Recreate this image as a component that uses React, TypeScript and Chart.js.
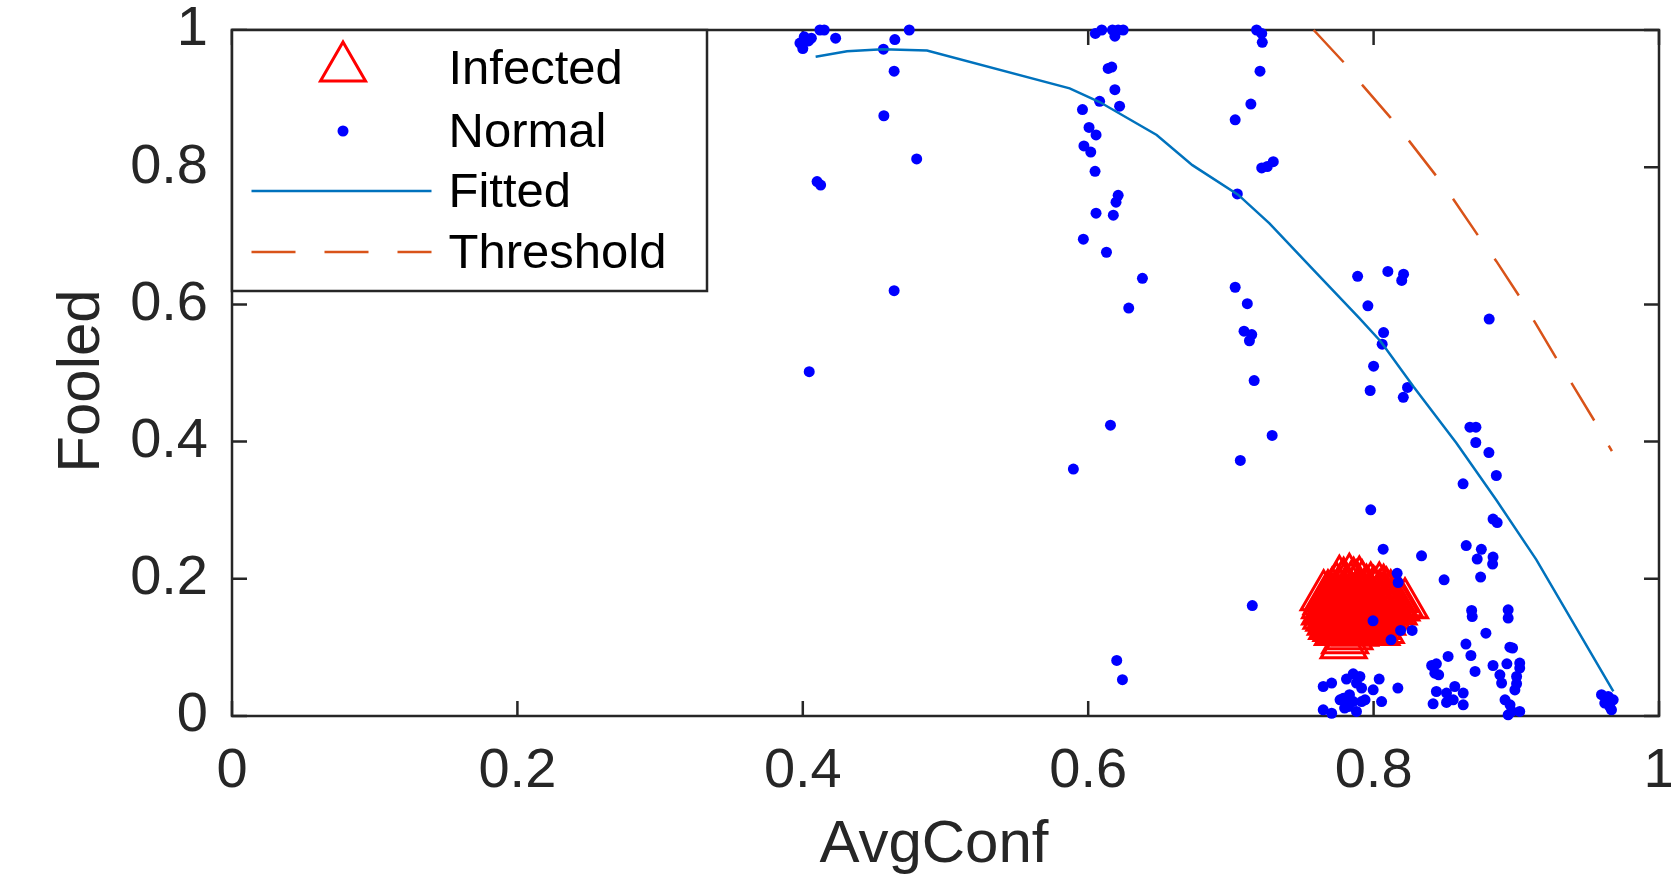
import React, { useEffect, useRef } from 'react';
import { Chart, registerables } from 'chart.js';

Chart.register(...registerables);

// ---------- data ----------
const tickValues = [0, 0.2, 0.4, 0.6, 0.8, 1];
const tickLabels = ['0', '0.2', '0.4', '0.6', '0.8', '1'];

const xTitle = 'AvgConf';
const yTitle = 'Fooled';
const legendLabels = ['Infected', 'Normal', 'Fitted', 'Threshold'];

// Infected samples (AvgConf, Fooled)
const infectedPoints: [number, number][] = [
  [0.783, 0.198],
  [0.779, 0.192], [0.786, 0.192], [0.776, 0.195], [0.790, 0.194],
  [0.778, 0.188], [0.792, 0.188], [0.788, 0.188], [0.784, 0.186],
  [0.798, 0.185], [0.774, 0.185], [0.804, 0.185],
  [0.781, 0.182], [0.795, 0.182], [0.807, 0.182], [0.800, 0.180],
  [0.771, 0.178], [0.776, 0.178], [0.789, 0.178], [0.801, 0.178], [0.809, 0.178],
  [0.765, 0.174], [0.768, 0.174], [0.784, 0.174], [0.793, 0.174], [0.812, 0.174], [0.804, 0.174],
  [0.770, 0.172], [0.790, 0.172], [0.806, 0.170],
  [0.773, 0.171], [0.787, 0.171], [0.798, 0.171], [0.815, 0.171], [0.779, 0.171],
  [0.767, 0.168], [0.781, 0.168], [0.791, 0.168], [0.808, 0.168], [0.796, 0.168],
  [0.775, 0.167], [0.799, 0.166],
  [0.770, 0.165], [0.776, 0.165], [0.786, 0.165], [0.802, 0.165], [0.813, 0.165], [0.818, 0.165],
  [0.788, 0.163], [0.805, 0.163],
  [0.766, 0.162], [0.783, 0.162], [0.794, 0.162], [0.799, 0.162], [0.822, 0.162], [0.810, 0.162],
  [0.777, 0.161], [0.812, 0.160],
  [0.772, 0.159], [0.779, 0.159], [0.789, 0.159], [0.805, 0.159], [0.816, 0.159], [0.795, 0.159],
  [0.783, 0.157],
  [0.768, 0.156], [0.775, 0.156], [0.792, 0.156], [0.801, 0.156], [0.811, 0.156], [0.797, 0.156],
  [0.766, 0.153], [0.784, 0.153], [0.788, 0.153], [0.807, 0.153], [0.814, 0.153], [0.769, 0.153],
  [0.799, 0.152],
  [0.771, 0.150], [0.778, 0.150], [0.795, 0.150], [0.803, 0.150], [0.782, 0.150], [0.790, 0.150],
  [0.806, 0.149], [0.775, 0.148],
  [0.767, 0.147], [0.786, 0.147], [0.791, 0.147], [0.809, 0.147], [0.799, 0.147],
  [0.783, 0.145], [0.793, 0.144],
  [0.769, 0.144], [0.774, 0.144], [0.781, 0.144], [0.796, 0.144], [0.804, 0.144],
  [0.772, 0.141], [0.788, 0.141], [0.793, 0.141], [0.801, 0.141], [0.778, 0.141],
  [0.777, 0.139],
  [0.770, 0.138], [0.784, 0.138], [0.797, 0.138], [0.806, 0.138], [0.790, 0.138],
  [0.795, 0.137], [0.781, 0.136],
  [0.773, 0.135], [0.779, 0.135], [0.787, 0.135], [0.800, 0.135],
  [0.771, 0.132], [0.776, 0.132], [0.794, 0.132], [0.803, 0.132], [0.783, 0.132], [0.791, 0.132],
  [0.774, 0.129], [0.781, 0.129], [0.789, 0.129], [0.798, 0.129],
  [0.779, 0.127], [0.796, 0.126],
  [0.777, 0.126], [0.786, 0.126], [0.792, 0.126], [0.805, 0.126],
  [0.775, 0.123], [0.783, 0.123], [0.799, 0.123], [0.802, 0.123], [0.787, 0.122],
  [0.783, 0.117],
  [0.780, 0.111],
  [0.779, 0.104],
];

// Normal samples, grouped by region
const normalGroupA: [number, number][] = [
  [0.398, 0.981], [0.401, 0.990], [0.406, 0.988], [0.400, 0.973], [0.404, 0.984],
  [0.412, 1.0], [0.415, 1.0], [0.423, 0.988], [0.410, 0.779], [0.4125, 0.774],
  [0.4565, 0.972], [0.4645, 0.986], [0.464, 0.940], [0.4746, 1.0], [0.4568, 0.875],
  [0.4798, 0.812], [0.464, 0.620], [0.4045, 0.502],
];
const normalGroupB: [number, number][] = [
  [0.605, 0.995], [0.6095, 1.0], [0.617, 1.0], [0.621, 1.0], [0.6245, 1.0],
  [0.6187, 0.991], [0.614, 0.944], [0.6165, 0.946], [0.6187, 0.913], [0.608, 0.896],
  [0.622, 0.889], [0.596, 0.884], [0.6006, 0.858], [0.6055, 0.847], [0.597, 0.831],
  [0.6018, 0.822], [0.6048, 0.794], [0.621, 0.759], [0.6195, 0.749], [0.6055, 0.733],
  [0.6176, 0.730], [0.5966, 0.695], [0.6128, 0.676], [0.638, 0.638], [0.6284, 0.5946],
  [0.6156, 0.424], [0.5896, 0.360], [0.620, 0.081], [0.624, 0.053],
];
const normalGroupC: [number, number][] = [
  [0.718, 1.0], [0.7216, 0.995], [0.722, 0.982], [0.7204, 0.940], [0.714, 0.892],
  [0.703, 0.869], [0.7216, 0.799], [0.7255, 0.801], [0.7297, 0.808], [0.7045, 0.761],
  [0.703, 0.625], [0.7115, 0.601], [0.7092, 0.561], [0.7146, 0.556], [0.713, 0.547],
  [0.7163, 0.489], [0.7289, 0.409], [0.7066, 0.3725], [0.715, 0.161],
];
const normalGroupD: [number, number][] = [
  [0.7888, 0.641], [0.810, 0.648], [0.821, 0.644], [0.8197, 0.635], [0.796, 0.598],
  [0.807, 0.559], [0.806, 0.542], [0.800, 0.510], [0.7976, 0.4745], [0.8238, 0.479],
  [0.8208, 0.4645], [0.798, 0.3006], [0.8067, 0.2432], [0.8336, 0.2335], [0.8165, 0.208],
  [0.8172, 0.1946], [0.8494, 0.1985], [0.7996, 0.1388], [0.8189, 0.1247], [0.827, 0.1247],
  [0.8122, 0.111],
];
const normalGroupE: [number, number][] = [
  [0.881, 0.5786], [0.8675, 0.421], [0.8717, 0.421], [0.8716, 0.3987], [0.8808, 0.384],
  [0.886, 0.3506], [0.8627, 0.3385], [0.8837, 0.287], [0.8866, 0.282], [0.8649, 0.2485],
  [0.8755, 0.243], [0.8726, 0.2287], [0.8837, 0.2316], [0.8834, 0.2214], [0.875, 0.2025],
  [0.8687, 0.1538], [0.8691, 0.145], [0.8943, 0.1548], [0.8943, 0.1427], [0.8787, 0.1208],
  [0.8647, 0.1048], [0.8682, 0.0882], [0.8955, 0.1004], [0.8974, 0.099], [0.8522, 0.0868],
  [0.8407, 0.0736], [0.844, 0.076], [0.8429, 0.0624], [0.8456, 0.06], [0.8711, 0.0649],
  [0.8837, 0.0736], [0.8934, 0.076], [0.9024, 0.0771], [0.9024, 0.0698], [0.8885, 0.06],
  [0.9002, 0.0576], [0.8897, 0.048], [0.9002, 0.047], [0.899, 0.038], [0.844, 0.0357],
  [0.8511, 0.0334], [0.8569, 0.043], [0.8628, 0.0334], [0.8558, 0.0236], [0.8511, 0.0197],
  [0.8417, 0.0178], [0.8628, 0.0163], [0.8921, 0.0236], [0.8956, 0.0163], [0.8968, 0.0066],
  [0.9024, 0.0066], [0.8943, 0.0017],
];
const normalGroupF: [number, number][] = [
  [0.9597, 0.031], [0.9644, 0.0285], [0.9679, 0.0236], [0.962, 0.0188], [0.9655, 0.0138],
  [0.9667, 0.009],
];
const normalGroupG: [number, number][] = [
  [0.7647, 0.043], [0.7706, 0.048], [0.781, 0.0538], [0.7857, 0.0615], [0.7904, 0.0576],
  [0.788, 0.048], [0.7916, 0.0407], [0.7997, 0.0382], [0.8039, 0.0538], [0.817, 0.0407],
  [0.7765, 0.0236], [0.781, 0.0163], [0.7857, 0.0211], [0.7916, 0.0211], [0.794, 0.0236],
  [0.8056, 0.0211], [0.7647, 0.009], [0.7706, 0.004], [0.788, 0.0066], [0.7797, 0.0115],
  [0.7831, 0.031], [0.7788, 0.0258], [0.7823, 0.0138],
];

const fittedPoints: [number, number][] = [
  [0.409, 0.961], [0.431, 0.969], [0.456, 0.972], [0.487, 0.970], [0.587, 0.915],
  [0.608, 0.895], [0.648, 0.847], [0.673, 0.803], [0.705, 0.760], [0.727, 0.718],
  [0.758, 0.650], [0.790, 0.580], [0.805, 0.546], [0.828, 0.480], [0.858, 0.398],
  [0.886, 0.315], [0.914, 0.228], [0.968, 0.036],
];

const thresholdPoints: [number, number][] = [
  [0.758, 1.0], [0.779, 0.953], [0.792, 0.920], [0.812, 0.872], [0.825, 0.838],
  [0.844, 0.787], [0.856, 0.753], [0.874, 0.698], [0.886, 0.663], [0.903, 0.609],
  [0.913, 0.574], [0.929, 0.518], [0.940, 0.481], [0.956, 0.426], [0.967, 0.386],
];

// ---------- styles ----------
const FONT = "'Liberation Sans', Arial, Helvetica, sans-serif";
const AXIS_COLOR = '#262626';
const INFECTED_COLOR = '#ff0000';
const NORMAL_COLOR = '#0000ff';
const FITTED_COLOR = '#0072BD';
const THRESHOLD_COLOR = '#D95319';
const DASH = [44, 29];

const toXY = (pts: [number, number][]) => pts.map(([x, y]) => ({ x, y }));

const framePlugin = {
  id: 'matlabFrame',
  beforeDatasetsDraw(chart: any) {
    const { ctx, chartArea: a, scales } = chart;
    ctx.save();
    ctx.strokeStyle = AXIS_COLOR;
    ctx.lineWidth = 2.5;
    ctx.strokeRect(a.left, a.top, a.right - a.left, a.bottom - a.top);
    const tl = 15;
    ctx.beginPath();
    for (const v of tickValues) {
      const px = scales.x.getPixelForValue(v);
      ctx.moveTo(px, a.bottom);
      ctx.lineTo(px, a.bottom - tl);
      ctx.moveTo(px, a.top);
      ctx.lineTo(px, a.top + tl);
      const py = scales.y.getPixelForValue(v);
      ctx.moveTo(a.left, py);
      ctx.lineTo(a.left + tl, py);
      ctx.moveTo(a.right, py);
      ctx.lineTo(a.right - tl, py);
    }
    ctx.stroke();
    ctx.restore();
  },
  afterDraw(chart: any) {
    const { ctx, chartArea: a } = chart;
    ctx.save();
    // axis titles
    ctx.fillStyle = AXIS_COLOR;
    ctx.font = `60px ${FONT}`;
    ctx.textAlign = 'center';
    ctx.textBaseline = 'middle';
    ctx.fillText(xTitle, 934, 845);
    ctx.save();
    ctx.translate(82, 381);
    ctx.rotate(-Math.PI / 2);
    ctx.fillText(yTitle, 0, 0);
    ctx.restore();

    // legend box
    const bx = a.left, by = a.top, bw = 475, bh = 261;
    ctx.fillStyle = '#ffffff';
    ctx.fillRect(bx, by, bw, bh);
    ctx.strokeStyle = AXIS_COLOR;
    ctx.lineWidth = 2.5;
    ctx.strokeRect(bx, by, bw, bh);

    const rows = [38, 101, 161, 222].map((d) => by + d);
    const mx = bx + 111;
    const lx1 = bx + 19.5, lx2 = bx + 199.5;
    const tx = bx + 216.5;

    // Infected triangle
    const r = 26;
    ctx.strokeStyle = INFECTED_COLOR;
    ctx.lineWidth = 3;
    ctx.beginPath();
    ctx.moveTo(mx, rows[0] - r);
    ctx.lineTo(mx + r * Math.sqrt(3) / 2, rows[0] + r / 2);
    ctx.lineTo(mx - r * Math.sqrt(3) / 2, rows[0] + r / 2);
    ctx.closePath();
    ctx.stroke();
    // Normal dot
    ctx.fillStyle = NORMAL_COLOR;
    ctx.beginPath();
    ctx.arc(mx, rows[1], 5.5, 0, Math.PI * 2);
    ctx.fill();
    // Fitted line
    ctx.strokeStyle = FITTED_COLOR;
    ctx.lineWidth = 2.5;
    ctx.beginPath();
    ctx.moveTo(lx1, rows[2]);
    ctx.lineTo(lx2, rows[2]);
    ctx.stroke();
    // Threshold dashed
    ctx.strokeStyle = THRESHOLD_COLOR;
    ctx.setLineDash(DASH);
    ctx.beginPath();
    ctx.moveTo(lx1, rows[3]);
    ctx.lineTo(lx2, rows[3]);
    ctx.stroke();
    ctx.setLineDash([]);

    ctx.fillStyle = '#000000';
    ctx.font = `49px ${FONT}`;
    ctx.textAlign = 'left';
    ctx.textBaseline = 'middle';
    legendLabels.forEach((lab, i) => ctx.fillText(lab, tx, rows[i] + 2));
    ctx.restore();
  },
};

export default function App() {
  const ref = useRef<HTMLCanvasElement>(null);
  useEffect(() => {
    if (!ref.current) return;
    const normalAll = [
      ...normalGroupA, ...normalGroupB, ...normalGroupC, ...normalGroupD,
      ...normalGroupE, ...normalGroupF, ...normalGroupG,
    ];
    const tickFont = { family: FONT, size: 56 };
    const chart = new Chart(ref.current, {
      type: 'scatter',
      data: {
        datasets: [
          {
            label: legendLabels[0],
            data: toXY(infectedPoints),
            pointStyle: 'triangle',
            pointRadius: 26,
            borderColor: INFECTED_COLOR,
            borderWidth: 3,
            backgroundColor: 'rgba(0,0,0,0)',
            order: 3,
            clip: false,
          },
          {
            label: legendLabels[1],
            data: toXY(normalAll),
            pointStyle: 'circle',
            pointRadius: 5.5,
            borderWidth: 0,
            backgroundColor: NORMAL_COLOR,
            order: 2,
            clip: false,
          },
          {
            label: legendLabels[2],
            data: toXY(fittedPoints),
            showLine: true,
            pointRadius: 0,
            borderColor: FITTED_COLOR,
            borderWidth: 2.5,
            tension: 0,
            order: 1,
            clip: false,
          },
          {
            label: legendLabels[3],
            data: toXY(thresholdPoints),
            showLine: true,
            pointRadius: 0,
            borderColor: THRESHOLD_COLOR,
            borderWidth: 2.5,
            borderDash: DASH,
            tension: 0,
            order: 0,
            clip: false,
          },
        ] as any,
      },
      options: {
        responsive: false,
        maintainAspectRatio: false,
        animation: false,
        devicePixelRatio: 1,
        layout: { autoPadding: false, padding: { top: 30, right: 12, left: 0, bottom: 0 } },
        plugins: { legend: { display: false }, tooltip: { enabled: false } },
        scales: {
          x: {
            type: 'linear',
            min: 0,
            max: 1,
            afterBuildTicks: (s: any) => {
              s.ticks = tickValues.map((v) => ({ value: v }));
            },
            afterFit: (s: any) => {
              s.height = 165;
              s.paddingLeft = 0;
              s.paddingRight = 0;
            },
            ticks: {
              callback: (_v: any, i: number) => tickLabels[i],
              font: tickFont,
              color: AXIS_COLOR,
              padding: 22,
              maxRotation: 0,
              autoSkip: false,
            },
            grid: { display: false, drawTicks: false },
            border: { display: false },
          },
          y: {
            type: 'linear',
            min: 0,
            max: 1,
            afterBuildTicks: (s: any) => {
              s.ticks = tickValues.map((v) => ({ value: v }));
            },
            afterFit: (s: any) => {
              s.width = 232;
              s.paddingTop = 0;
              s.paddingBottom = 0;
            },
            ticks: {
              callback: (_v: any, i: number) => tickLabels[i],
              font: tickFont,
              color: AXIS_COLOR,
              padding: 24,
              autoSkip: false,
            },
            grid: { display: false, drawTicks: false },
            border: { display: false },
          },
        },
      } as any,
      plugins: [framePlugin],
    });
    return () => chart.destroy();
  }, []);

  return (
    <div style={{ position: 'fixed', left: 0, top: 0, width: 1671, height: 881, background: '#ffffff' }}>
      <canvas ref={ref} width={1671} height={881} style={{ display: 'block', width: 1671, height: 881 }} />
    </div>
  );
}
